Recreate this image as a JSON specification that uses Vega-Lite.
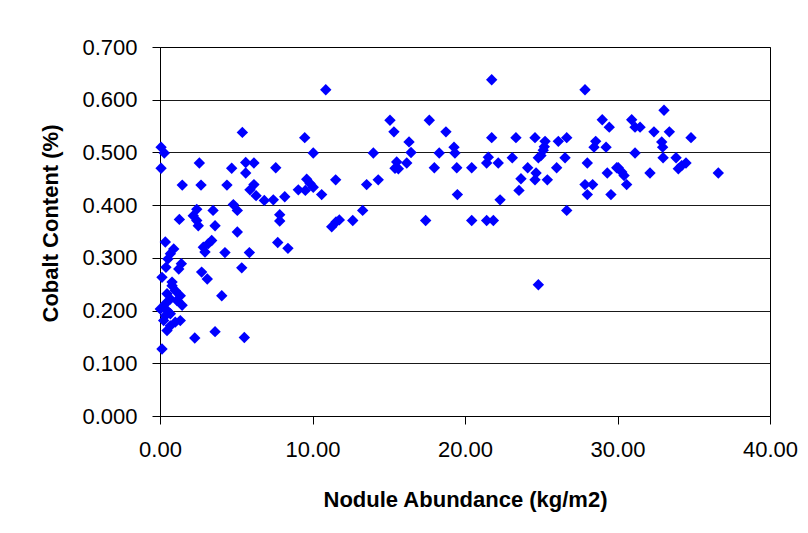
{
  "$schema": "https://vega.github.io/schema/vega-lite/v6.json",
  "width": 610,
  "height": 369,
  "autosize": {"type": "none"},
  "padding": {"left": 160, "top": 47, "right": 38, "bottom": 117},
  "background": "white",
  "config": {
    "font": "Liberation Sans",
    "view": {"stroke": "#000000", "strokeWidth": 1},
    "axis": {
      "labelFont": "Liberation Sans",
      "titleFont": "Liberation Sans",
      "labelFontSize": 22,
      "titleFontSize": 22,
      "titleFontWeight": "bold",
      "labelColor": "#000000",
      "titleColor": "#000000",
      "domainColor": "#000000",
      "tickColor": "#000000",
      "tickSize": 8,
      "gridColor": "#000000",
      "gridOpacity": 0.9,
      "gridWidth": 1
    }
  },
  "data": {
    "values": [
      {"abundance": 0.07, "cobalt": 0.510},
      {"abundance": 0.28, "cobalt": 0.499},
      {"abundance": 0.07, "cobalt": 0.470},
      {"abundance": 5.40, "cobalt": 0.538},
      {"abundance": 9.49, "cobalt": 0.528},
      {"abundance": 2.58, "cobalt": 0.480},
      {"abundance": 4.70, "cobalt": 0.470},
      {"abundance": 5.62, "cobalt": 0.481},
      {"abundance": 6.16, "cobalt": 0.480},
      {"abundance": 5.62, "cobalt": 0.461},
      {"abundance": 7.59, "cobalt": 0.471},
      {"abundance": 1.46, "cobalt": 0.438},
      {"abundance": 2.69, "cobalt": 0.438},
      {"abundance": 4.39, "cobalt": 0.438},
      {"abundance": 6.16, "cobalt": 0.439},
      {"abundance": 5.90, "cobalt": 0.429},
      {"abundance": 6.30, "cobalt": 0.418},
      {"abundance": 6.84, "cobalt": 0.409},
      {"abundance": 7.43, "cobalt": 0.410},
      {"abundance": 8.18, "cobalt": 0.416},
      {"abundance": 9.07, "cobalt": 0.429},
      {"abundance": 9.53, "cobalt": 0.428},
      {"abundance": 9.62, "cobalt": 0.449},
      {"abundance": 4.81, "cobalt": 0.401},
      {"abundance": 5.07, "cobalt": 0.390},
      {"abundance": 3.48, "cobalt": 0.390},
      {"abundance": 2.41, "cobalt": 0.392},
      {"abundance": 2.18, "cobalt": 0.380},
      {"abundance": 1.27, "cobalt": 0.373},
      {"abundance": 7.85, "cobalt": 0.382},
      {"abundance": 7.85, "cobalt": 0.370},
      {"abundance": 2.41, "cobalt": 0.371},
      {"abundance": 2.51, "cobalt": 0.361},
      {"abundance": 3.61, "cobalt": 0.361},
      {"abundance": 5.07, "cobalt": 0.349},
      {"abundance": 7.72, "cobalt": 0.329},
      {"abundance": 8.39, "cobalt": 0.318},
      {"abundance": 0.35, "cobalt": 0.330},
      {"abundance": 0.90, "cobalt": 0.317},
      {"abundance": 0.68, "cobalt": 0.308},
      {"abundance": 0.52, "cobalt": 0.298},
      {"abundance": 1.40, "cobalt": 0.289},
      {"abundance": 1.23, "cobalt": 0.279},
      {"abundance": 0.39, "cobalt": 0.282},
      {"abundance": 0.13, "cobalt": 0.263},
      {"abundance": 0.79, "cobalt": 0.254},
      {"abundance": 2.84, "cobalt": 0.320},
      {"abundance": 3.17, "cobalt": 0.327},
      {"abundance": 3.39, "cobalt": 0.333},
      {"abundance": 2.95, "cobalt": 0.311},
      {"abundance": 4.26, "cobalt": 0.310},
      {"abundance": 5.86, "cobalt": 0.310},
      {"abundance": 2.73, "cobalt": 0.273},
      {"abundance": 3.10, "cobalt": 0.260},
      {"abundance": 5.36, "cobalt": 0.281},
      {"abundance": 4.05, "cobalt": 0.228},
      {"abundance": 0.79, "cobalt": 0.247},
      {"abundance": 1.00, "cobalt": 0.238},
      {"abundance": 1.33, "cobalt": 0.228},
      {"abundance": 0.46, "cobalt": 0.232},
      {"abundance": 0.68, "cobalt": 0.222},
      {"abundance": 1.11, "cobalt": 0.219},
      {"abundance": 1.45, "cobalt": 0.210},
      {"abundance": 0.35, "cobalt": 0.213},
      {"abundance": 0.02, "cobalt": 0.203},
      {"abundance": 0.46, "cobalt": 0.200},
      {"abundance": 0.68, "cobalt": 0.194},
      {"abundance": 0.35, "cobalt": 0.190},
      {"abundance": 0.24, "cobalt": 0.181},
      {"abundance": 1.33, "cobalt": 0.181},
      {"abundance": 1.00, "cobalt": 0.178},
      {"abundance": 0.68, "cobalt": 0.171},
      {"abundance": 0.46, "cobalt": 0.162},
      {"abundance": 2.28, "cobalt": 0.148},
      {"abundance": 0.13, "cobalt": 0.127},
      {"abundance": 3.61, "cobalt": 0.160},
      {"abundance": 5.53, "cobalt": 0.149},
      {"abundance": 10.87, "cobalt": 0.619},
      {"abundance": 10.05, "cobalt": 0.499},
      {"abundance": 15.08, "cobalt": 0.561},
      {"abundance": 15.34, "cobalt": 0.539},
      {"abundance": 17.66, "cobalt": 0.561},
      {"abundance": 18.75, "cobalt": 0.539},
      {"abundance": 16.33, "cobalt": 0.520},
      {"abundance": 16.46, "cobalt": 0.500},
      {"abundance": 13.99, "cobalt": 0.499},
      {"abundance": 18.31, "cobalt": 0.499},
      {"abundance": 19.28, "cobalt": 0.510},
      {"abundance": 19.34, "cobalt": 0.499},
      {"abundance": 15.52, "cobalt": 0.482},
      {"abundance": 15.41, "cobalt": 0.470},
      {"abundance": 15.63, "cobalt": 0.469},
      {"abundance": 16.18, "cobalt": 0.480},
      {"abundance": 17.99, "cobalt": 0.471},
      {"abundance": 19.46, "cobalt": 0.471},
      {"abundance": 9.84, "cobalt": 0.441},
      {"abundance": 10.05, "cobalt": 0.434},
      {"abundance": 10.60, "cobalt": 0.420},
      {"abundance": 11.52, "cobalt": 0.448},
      {"abundance": 13.55, "cobalt": 0.439},
      {"abundance": 14.31, "cobalt": 0.448},
      {"abundance": 19.50, "cobalt": 0.420},
      {"abundance": 13.29, "cobalt": 0.390},
      {"abundance": 11.26, "cobalt": 0.359},
      {"abundance": 11.54, "cobalt": 0.368},
      {"abundance": 11.76, "cobalt": 0.372},
      {"abundance": 12.64, "cobalt": 0.371},
      {"abundance": 17.42, "cobalt": 0.371},
      {"abundance": 21.75, "cobalt": 0.638},
      {"abundance": 27.87, "cobalt": 0.619},
      {"abundance": 29.00, "cobalt": 0.562},
      {"abundance": 29.46, "cobalt": 0.548},
      {"abundance": 21.75, "cobalt": 0.528},
      {"abundance": 23.34, "cobalt": 0.528},
      {"abundance": 24.59, "cobalt": 0.528},
      {"abundance": 25.25, "cobalt": 0.521},
      {"abundance": 25.20, "cobalt": 0.511},
      {"abundance": 25.13, "cobalt": 0.504},
      {"abundance": 24.98, "cobalt": 0.494},
      {"abundance": 24.81, "cobalt": 0.490},
      {"abundance": 26.12, "cobalt": 0.521},
      {"abundance": 26.67, "cobalt": 0.528},
      {"abundance": 28.57, "cobalt": 0.521},
      {"abundance": 28.46, "cobalt": 0.510},
      {"abundance": 29.25, "cobalt": 0.510},
      {"abundance": 21.53, "cobalt": 0.491},
      {"abundance": 21.42, "cobalt": 0.480},
      {"abundance": 22.18, "cobalt": 0.480},
      {"abundance": 23.10, "cobalt": 0.490},
      {"abundance": 26.56, "cobalt": 0.490},
      {"abundance": 20.44, "cobalt": 0.471},
      {"abundance": 24.11, "cobalt": 0.471},
      {"abundance": 24.66, "cobalt": 0.461},
      {"abundance": 24.59, "cobalt": 0.448},
      {"abundance": 23.67, "cobalt": 0.450},
      {"abundance": 23.54, "cobalt": 0.428},
      {"abundance": 25.40, "cobalt": 0.448},
      {"abundance": 26.01, "cobalt": 0.471},
      {"abundance": 28.02, "cobalt": 0.480},
      {"abundance": 27.87, "cobalt": 0.439},
      {"abundance": 28.37, "cobalt": 0.439},
      {"abundance": 28.02, "cobalt": 0.420},
      {"abundance": 29.33, "cobalt": 0.461},
      {"abundance": 29.95, "cobalt": 0.471},
      {"abundance": 29.57, "cobalt": 0.420},
      {"abundance": 22.30, "cobalt": 0.410},
      {"abundance": 26.67, "cobalt": 0.390},
      {"abundance": 20.44, "cobalt": 0.371},
      {"abundance": 21.42, "cobalt": 0.371},
      {"abundance": 21.86, "cobalt": 0.371},
      {"abundance": 33.05, "cobalt": 0.580},
      {"abundance": 30.93, "cobalt": 0.562},
      {"abundance": 31.15, "cobalt": 0.548},
      {"abundance": 31.48, "cobalt": 0.548},
      {"abundance": 32.39, "cobalt": 0.539},
      {"abundance": 33.40, "cobalt": 0.539},
      {"abundance": 34.82, "cobalt": 0.528},
      {"abundance": 32.90, "cobalt": 0.520},
      {"abundance": 32.96, "cobalt": 0.510},
      {"abundance": 31.15, "cobalt": 0.499},
      {"abundance": 32.99, "cobalt": 0.490},
      {"abundance": 33.84, "cobalt": 0.490},
      {"abundance": 34.49, "cobalt": 0.480},
      {"abundance": 34.21, "cobalt": 0.475},
      {"abundance": 33.99, "cobalt": 0.469},
      {"abundance": 30.05, "cobalt": 0.471},
      {"abundance": 30.28, "cobalt": 0.463},
      {"abundance": 30.43, "cobalt": 0.456},
      {"abundance": 32.13, "cobalt": 0.461},
      {"abundance": 36.61, "cobalt": 0.461},
      {"abundance": 30.60, "cobalt": 0.439},
      {"abundance": 24.81, "cobalt": 0.249}
    ]
  },
  "mark": {"type": "point", "shape": "diamond", "filled": true, "color": "#0000FF", "opacity": 1, "size": 130},
  "encoding": {
    "x": {
      "field": "abundance",
      "type": "quantitative",
      "scale": {"domain": [0, 40], "nice": false, "zero": true},
      "axis": {
        "title": "Nodule Abundance (kg/m2)",
        "values": [0, 10, 20, 30, 40],
        "format": ".2f",
        "grid": false,
        "labelPadding": 15,
        "titlePadding": 29,
        "labelFlush": false
      }
    },
    "y": {
      "field": "cobalt",
      "type": "quantitative",
      "scale": {"domain": [0, 0.7], "nice": false},
      "axis": {
        "title": "Cobalt Content (%)",
        "values": [0, 0.1, 0.2, 0.3, 0.4, 0.5, 0.6, 0.7],
        "format": ".3f",
        "grid": true,
        "labelPadding": 15,
        "titlePadding": 19,
        "titleY": 176
      }
    }
  }
}
